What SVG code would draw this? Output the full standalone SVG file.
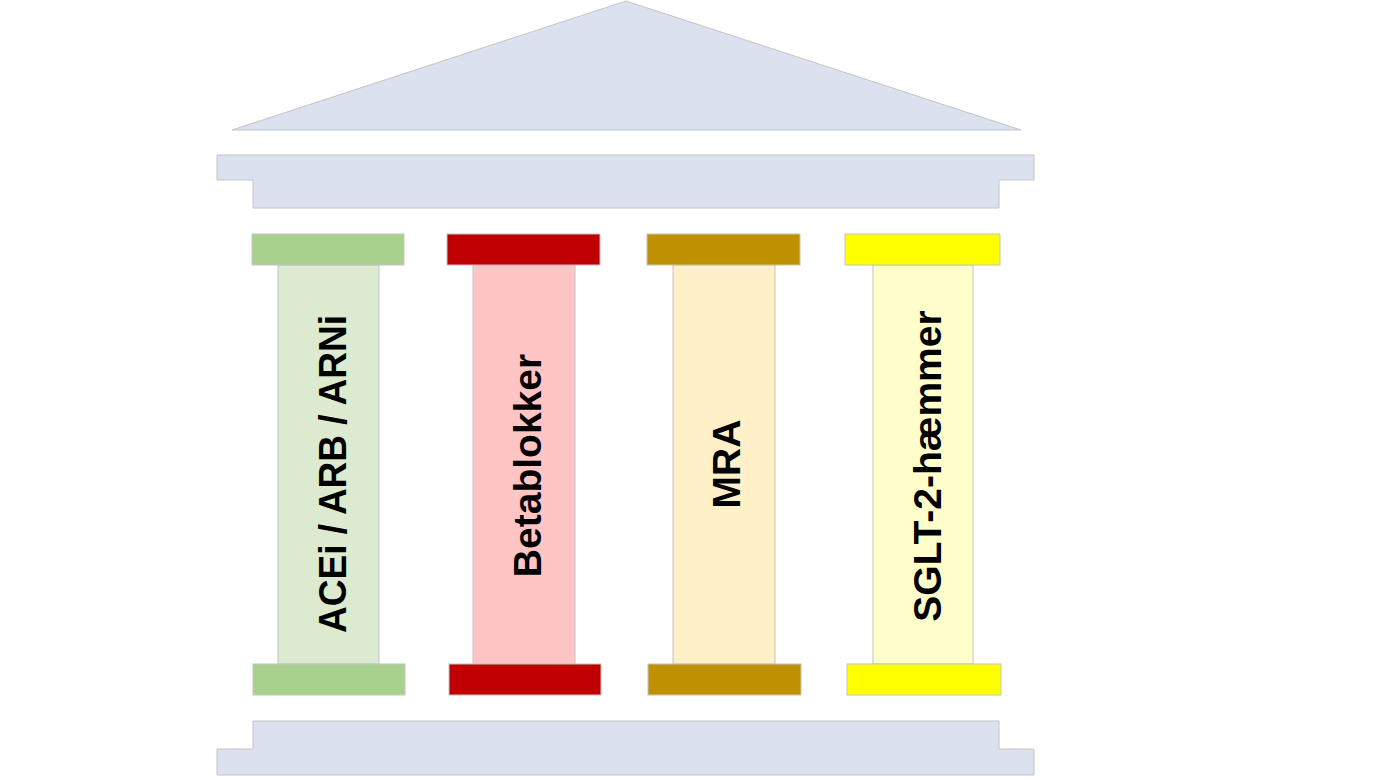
<svg xmlns="http://www.w3.org/2000/svg" width="1390" height="780" viewBox="0 0 1390 780">
<style>
.frame{fill:#dce1ef;stroke:#c4c4c4;stroke-width:1}
.part{stroke:#c4c4c4;stroke-width:1}
.lbl{font-family:"Liberation Sans",Arial,sans-serif;font-weight:bold;font-size:39px;fill:#000;text-anchor:middle}
</style>
<rect width="1390" height="780" fill="#ffffff"/>
<g id="roof">
<polygon class="frame" points="626,1 1021,130 232,130"/>
</g>
<g id="entablature">
<polygon class="frame" points="217,155 1034,155 1034,180 999,180 999,208 253,208 253,180 217,180"/>
</g>
<g id="pillar1">
<rect class="part" x="278" y="265" width="101" height="399" fill="#dceacf"/>
<rect class="part" x="252" y="234" width="152" height="31" fill="#a9d18e"/>
<rect class="part" x="253" y="664" width="152" height="31" fill="#a9d18e"/>
<text class="lbl" transform="translate(346,474) rotate(-90)" textLength="318" lengthAdjust="spacingAndGlyphs">ACEi / ARB / ARNi</text>
</g>
<g id="pillar2">
<rect class="part" x="473" y="265" width="102" height="399" fill="#ffc5c5"/>
<rect class="part" x="447" y="234" width="153" height="31" fill="#c00000"/>
<rect class="part" x="449" y="664" width="152" height="31" fill="#c00000"/>
<text class="lbl" transform="translate(541,465.5) rotate(-90)">Betablokker</text>
</g>
<g id="pillar3">
<rect class="part" x="673" y="265" width="102" height="399" fill="#fff0c8"/>
<rect class="part" x="647" y="234" width="153" height="31" fill="#bf9000"/>
<rect class="part" x="648" y="664" width="153" height="31" fill="#bf9000"/>
<text class="lbl" transform="translate(740,464) rotate(-90)">MRA</text>
</g>
<g id="pillar4">
<rect class="part" x="873" y="265" width="100" height="399" fill="#ffffcc"/>
<rect class="part" x="845" y="234" width="155" height="31" fill="#ffff00"/>
<rect class="part" x="847" y="664" width="154" height="31" fill="#ffff00"/>
<text class="lbl" transform="translate(941,466) rotate(-90)">SGLT-2-hæmmer</text>
</g>
<g id="stylobate">
<polygon class="frame" points="253,721 999,721 999,749 1034,749 1034,775 217,775 217,749 253,749"/>
</g>
<g id="connectors"></g>
</svg>
